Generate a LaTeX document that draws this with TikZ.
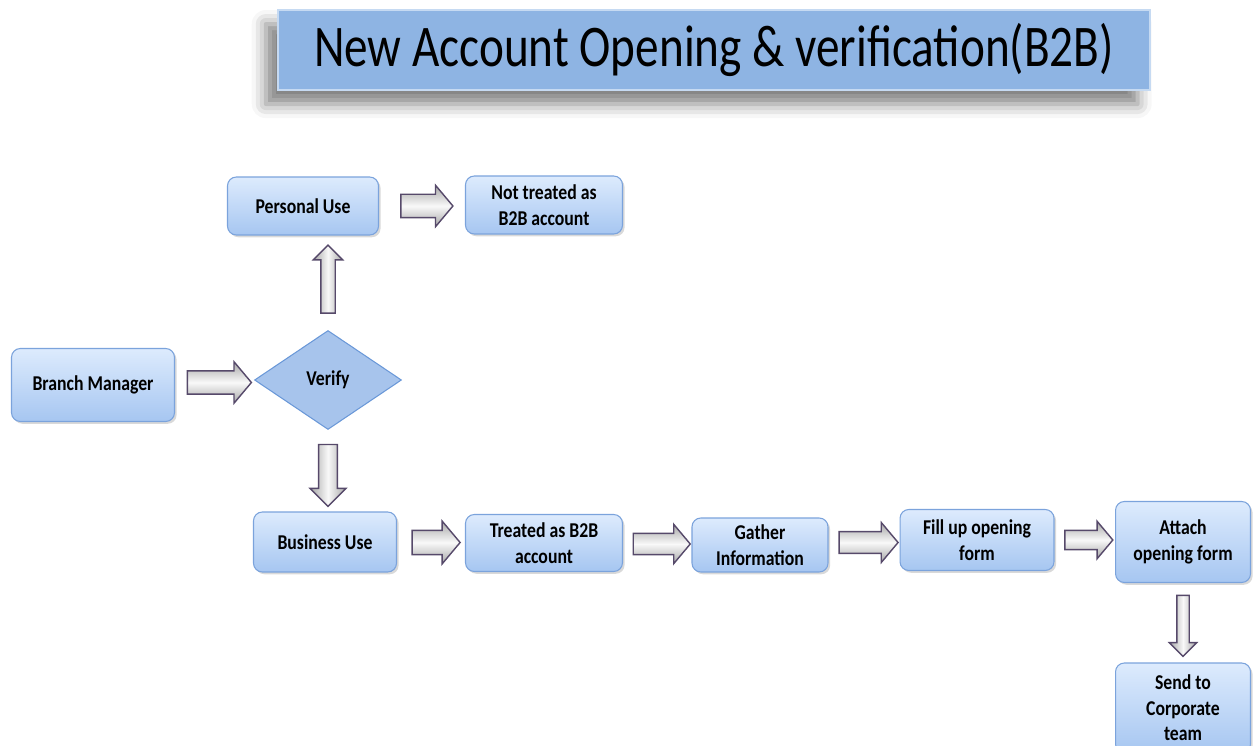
\documentclass[tikz,border=0pt]{standalone}
\usepackage{fontspec}
\setmainfont{Carlito}[FakeStretch=0.84]
\newfontfamily\titlefont{Carlito}[FakeStretch=0.8]
\usetikzlibrary{positioning,calc,shapes.geometric,shapes.arrows,shadows,shadows.blur}
\definecolor{boxtop}{HTML}{DDEBFD}
\definecolor{boxbot}{HTML}{A6C6F1}
\definecolor{boxline}{HTML}{7BA3DC}
\definecolor{diafill}{HTML}{A7C4EC}
\definecolor{dialine}{HTML}{6A98D8}
\definecolor{titlefill}{HTML}{8EB4E3}
\definecolor{titleline}{HTML}{C6DAF2}
\definecolor{arrline}{HTML}{56496A}
\tikzset{
  procbox/.style={rounded corners=5pt, draw=boxline, line width=0.6pt,
    top color=boxtop, bottom color=boxbot, align=center, inner sep=2pt,
    drop shadow={shadow xshift=1.2pt, shadow yshift=-1.3pt, opacity=0.3}},
  decision/.style={diamond, draw=dialine, fill=diafill, line width=0.6pt,
    minimum width=2.94cm, minimum height=1.98cm, inner sep=0pt},
  fatarrow/.style={single arrow, draw=arrline, line width=0.8pt, inner sep=0.22cm,
    top color=gray!70, bottom color=gray!70, middle color=gray!5,
    minimum width=0.8cm, minimum height=1.04cm,
    single arrow head extend=0.18cm, single arrow tip angle=100},
  fatarrowv/.style={single arrow, draw=arrline, line width=0.8pt, inner sep=0.14cm,
    left color=gray!70, right color=gray!70, middle color=gray!5,
    minimum width=0.6cm, minimum height=1.3cm,
    single arrow head extend=0.15cm, single arrow tip angle=90}
}
\begin{document}
\begin{tikzpicture}[x=0.02cm, y=-0.02cm, font=\bfseries\fontsize{12}{14.5}\selectfont]
\useasboundingbox (0,0) rectangle (1254,746);
\clip (0,0) rectangle (1254,746);
% title
\node[draw=titleline, fill=titlefill, line width=0.8pt, minimum width=17.44cm, minimum height=1.6cm,
  blur shadow={shadow xshift=-7pt, shadow yshift=-8pt, shadow blur radius=8pt, shadow opacity=50},
  font=\titlefont\fontsize{33.6}{40}\selectfont] (title) at (714,50) {New Account Opening \& verification(B2B)};
% boxes
\node[procbox, minimum width=3.26cm, minimum height=1.46cm] (bm) at (93,385) {Branch Manager};
\node[decision] (verify) at (328,380) {Verify};
\node[procbox, minimum width=3.02cm, minimum height=1.16cm] (pers) at (303,206) {Personal Use};
\node[procbox, minimum width=3.14cm, minimum height=1.16cm] (nottr) at (544,205) {Not treated as\\B2B account};
\node[procbox, minimum width=2.86cm, minimum height=1.2cm] (bus) at (325,542) {Business Use};
\node[procbox, minimum width=3.14cm, minimum height=1.14cm] (treat) at (544,543) {Treated as B2B\\account};
\node[procbox, minimum width=2.72cm, minimum height=1.08cm] (gather) at (760,545) {Gather\\Information};
\node[procbox, minimum width=3.08cm, minimum height=1.22cm] (fill) at (977,540) {Fill up opening\\form};
\node[procbox, minimum width=2.7cm, minimum height=1.62cm] (attach) at (1183,542) {Attach\\opening form};
\node[procbox, minimum width=2.7cm, minimum height=1.8cm] (send) at (1183,708) {Send to\\Corporate\\team};
% block arrows
\node[fatarrow, minimum width=0.76cm, minimum height=1.28cm] (a1) at ($(bm.east)!.5!(verify.west)$) {};
\node[fatarrowv, shape border rotate=90, inner sep=0.13cm, minimum width=0.54cm, minimum height=1.36cm] (a2) at ($(verify.north)!.5!(verify.north |- pers.south)$) {};
\node[fatarrow] (a3) at ($(pers.east)!.5!(pers.east -| nottr.west)$) {};
\node[fatarrowv, shape border rotate=270, inner sep=0.15cm, minimum width=0.72cm, minimum height=1.24cm] (a4) at ($(verify.south)!.5!(verify.south |- bus.north)$) {};
\node[fatarrow, minimum height=0.96cm, minimum width=0.86cm] (a5) at ($(bus.east)!.5!(treat.west)$) {};
\node[fatarrow, minimum height=1.14cm, minimum width=0.76cm, inner sep=0.2cm] (a6) at ($(treat.east)!.5!(gather.west)$) {};
\node[fatarrow, minimum height=1.18cm, inner sep=0.2cm] (a7) at ($(gather.east)!.5!(fill.west)$) {};
\node[fatarrow, minimum height=0.96cm, minimum width=0.72cm, inner sep=0.18cm] (a8) at ($(fill.east)!.5!(fill.east -| attach.west)$) {};
\node[fatarrowv, shape border rotate=270, inner sep=0.11cm, minimum width=0.5cm, minimum height=1.22cm] (a9) at ($(attach.south)!.5!(attach.south |- send.north)$) {};
\end{tikzpicture}
\end{document}
